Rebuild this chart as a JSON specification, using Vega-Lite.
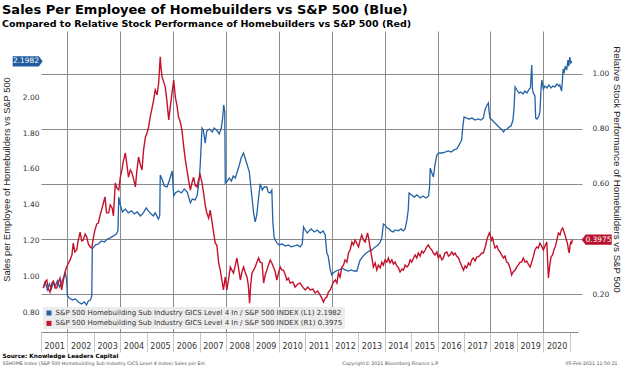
{
  "$schema": "https://vega.github.io/schema/vega-lite/v6.json",
  "width": 537,
  "height": 301,
  "autosize": {"type": "none"},
  "padding": {"left": 41, "top": 31, "right": 46, "bottom": 35},
  "background": "white",
  "config": {"view": {"stroke": null}, "font": "DejaVu Sans", "axis": {"labelOverlap": false}},
  "title": {
    "text": "Sales Per Employee of Homebuilders vs S&P 500 (Blue)",
    "subtitle": "Compared to Relative Stock Performance of Homebuilders vs S&P 500 (Red)",
    "anchor": "start",
    "frame": "group",
    "dx": -39,
    "offset": 3,
    "font": "DejaVu Sans",
    "fontSize": 13,
    "fontWeight": "bold",
    "color": "#000000",
    "subtitleFont": "DejaVu Sans",
    "subtitleFontSize": 9.5,
    "subtitleFontWeight": "bold",
    "subtitleColor": "#000000",
    "subtitlePadding": 2
  },
  "datasets": {
    "blue": [
      {"t":2001.08,"v":0.939},{"t":2001.17,"v":0.967},{"t":2001.24,"v":0.928},{"t":2001.32,"v":0.961},{"t":2001.39,"v":0.933},{"t":2001.47,"v":0.972},{"t":2001.54,"v":0.95},{"t":2001.62,"v":0.978},{"t":2001.70,"v":0.944},{"t":2001.77,"v":0.967},{"t":2001.86,"v":1.0},{"t":2001.92,"v":1.025},{"t":2001.97,"v":0.983},{"t":2002.00,"v":0.894},{"t":2002.07,"v":0.883},{"t":2002.19,"v":0.872},{"t":2002.30,"v":0.878},{"t":2002.41,"v":0.861},{"t":2002.53,"v":0.85},{"t":2002.64,"v":0.861},{"t":2002.72,"v":0.844},{"t":2002.79,"v":0.867},{"t":2002.87,"v":0.872},{"t":2002.92,"v":0.894},{"t":2002.94,"v":1.156},{"t":2003.06,"v":1.178},{"t":2003.17,"v":1.183},{"t":2003.28,"v":1.20},{"t":2003.40,"v":1.194},{"t":2003.51,"v":1.211},{"t":2003.62,"v":1.217},{"t":2003.74,"v":1.228},{"t":2003.85,"v":1.239},{"t":2003.91,"v":1.256},{"t":2003.94,"v":1.444},{"t":2004.00,"v":1.40},{"t":2004.08,"v":1.361},{"t":2004.19,"v":1.378},{"t":2004.30,"v":1.356},{"t":2004.42,"v":1.367},{"t":2004.53,"v":1.35},{"t":2004.64,"v":1.361},{"t":2004.76,"v":1.339},{"t":2004.87,"v":1.356},{"t":2004.98,"v":1.383},{"t":2005.06,"v":1.367},{"t":2005.17,"v":1.35},{"t":2005.25,"v":1.339},{"t":2005.32,"v":1.356},{"t":2005.44,"v":1.322},{"t":2005.49,"v":1.339},{"t":2005.51,"v":1.567},{"t":2005.59,"v":1.539},{"t":2005.66,"v":1.506},{"t":2005.77,"v":1.50},{"t":2005.86,"v":1.539},{"t":2005.96,"v":1.589},{"t":2006.02,"v":1.45},{"t":2006.08,"v":1.467},{"t":2006.20,"v":1.478},{"t":2006.31,"v":1.467},{"t":2006.42,"v":1.489},{"t":2006.53,"v":1.472},{"t":2006.65,"v":1.411},{"t":2006.72,"v":1.433},{"t":2006.83,"v":1.428},{"t":2006.91,"v":1.456},{"t":2006.98,"v":1.539},{"t":2007.02,"v":1.617},{"t":2007.09,"v":1.828},{"t":2007.14,"v":1.817},{"t":2007.21,"v":1.744},{"t":2007.27,"v":1.811},{"t":2007.36,"v":1.822},{"t":2007.48,"v":1.806},{"t":2007.55,"v":1.828},{"t":2007.67,"v":1.811},{"t":2007.74,"v":1.794},{"t":2007.82,"v":1.828},{"t":2007.87,"v":1.883},{"t":2007.91,"v":1.956},{"t":2007.95,"v":1.917},{"t":2007.97,"v":1.522},{"t":2008.05,"v":1.533},{"t":2008.12,"v":1.55},{"t":2008.20,"v":1.533},{"t":2008.27,"v":1.561},{"t":2008.35,"v":1.55},{"t":2008.42,"v":1.583},{"t":2008.50,"v":1.622},{"t":2008.57,"v":1.661},{"t":2008.66,"v":1.689},{"t":2008.72,"v":1.661},{"t":2008.80,"v":1.622},{"t":2008.88,"v":1.583},{"t":2008.95,"v":1.483},{"t":2009.01,"v":1.40},{"t":2009.04,"v":1.356},{"t":2009.10,"v":1.306},{"t":2009.16,"v":1.344},{"t":2009.22,"v":1.428},{"t":2009.29,"v":1.517},{"t":2009.37,"v":1.483},{"t":2009.44,"v":1.50},{"t":2009.54,"v":1.50},{"t":2009.59,"v":1.472},{"t":2009.67,"v":1.467},{"t":2009.73,"v":1.483},{"t":2009.77,"v":1.30},{"t":2009.82,"v":1.217},{"t":2009.92,"v":1.189},{"t":2010.01,"v":1.178},{"t":2010.12,"v":1.183},{"t":2010.24,"v":1.172},{"t":2010.35,"v":1.178},{"t":2010.46,"v":1.167},{"t":2010.58,"v":1.172},{"t":2010.69,"v":1.178},{"t":2010.80,"v":1.167},{"t":2010.88,"v":1.183},{"t":2010.93,"v":1.278},{"t":2010.99,"v":1.261},{"t":2011.07,"v":1.244},{"t":2011.14,"v":1.256},{"t":2011.22,"v":1.267},{"t":2011.33,"v":1.25},{"t":2011.45,"v":1.261},{"t":2011.56,"v":1.244},{"t":2011.67,"v":1.256},{"t":2011.75,"v":1.233},{"t":2011.81,"v":1.133},{"t":2011.86,"v":1.117},{"t":2011.94,"v":1.039},{"t":2012.00,"v":1.011},{"t":2012.05,"v":1.022},{"t":2012.16,"v":1.033},{"t":2012.28,"v":1.039},{"t":2012.39,"v":1.05},{"t":2012.50,"v":1.039},{"t":2012.62,"v":1.033},{"t":2012.73,"v":1.039},{"t":2012.84,"v":1.033},{"t":2012.95,"v":1.033},{"t":2013.00,"v":1.061},{"t":2013.07,"v":1.094},{"t":2013.19,"v":1.117},{"t":2013.30,"v":1.133},{"t":2013.41,"v":1.144},{"t":2013.52,"v":1.15},{"t":2013.64,"v":1.167},{"t":2013.75,"v":1.178},{"t":2013.83,"v":1.194},{"t":2013.89,"v":1.217},{"t":2013.95,"v":1.294},{"t":2014.01,"v":1.289},{"t":2014.09,"v":1.272},{"t":2014.17,"v":1.267},{"t":2014.24,"v":1.256},{"t":2014.32,"v":1.25},{"t":2014.39,"v":1.261},{"t":2014.51,"v":1.256},{"t":2014.62,"v":1.267},{"t":2014.70,"v":1.256},{"t":2014.77,"v":1.267},{"t":2014.84,"v":1.317},{"t":2014.89,"v":1.372},{"t":2014.92,"v":1.467},{"t":2015.02,"v":1.456},{"t":2015.11,"v":1.444},{"t":2015.22,"v":1.456},{"t":2015.34,"v":1.439},{"t":2015.45,"v":1.45},{"t":2015.56,"v":1.439},{"t":2015.66,"v":1.45},{"t":2015.70,"v":1.511},{"t":2015.72,"v":1.606},{"t":2015.77,"v":1.583},{"t":2015.84,"v":1.556},{"t":2015.90,"v":1.622},{"t":2015.97,"v":1.678},{"t":2016.05,"v":1.689},{"t":2016.17,"v":1.689},{"t":2016.28,"v":1.694},{"t":2016.40,"v":1.70},{"t":2016.51,"v":1.694},{"t":2016.62,"v":1.706},{"t":2016.72,"v":1.711},{"t":2016.81,"v":1.733},{"t":2016.91,"v":1.761},{"t":2016.96,"v":1.844},{"t":2017.00,"v":1.889},{"t":2017.10,"v":1.883},{"t":2017.19,"v":1.878},{"t":2017.30,"v":1.883},{"t":2017.42,"v":1.872},{"t":2017.53,"v":1.878},{"t":2017.64,"v":1.872},{"t":2017.73,"v":1.883},{"t":2017.79,"v":1.928},{"t":2017.85,"v":1.95},{"t":2017.92,"v":1.967},{"t":2017.94,"v":1.928},{"t":2017.98,"v":1.883},{"t":2018.06,"v":1.872},{"t":2018.13,"v":1.861},{"t":2018.21,"v":1.85},{"t":2018.28,"v":1.839},{"t":2018.36,"v":1.828},{"t":2018.44,"v":1.817},{"t":2018.49,"v":1.806},{"t":2018.55,"v":1.817},{"t":2018.63,"v":1.822},{"t":2018.70,"v":1.833},{"t":2018.78,"v":1.839},{"t":2018.85,"v":1.872},{"t":2018.89,"v":1.939},{"t":2018.93,"v":2.056},{"t":2019.00,"v":2.039},{"t":2019.08,"v":2.022},{"t":2019.15,"v":2.028},{"t":2019.23,"v":2.017},{"t":2019.30,"v":2.033},{"t":2019.38,"v":2.022},{"t":2019.46,"v":2.044},{"t":2019.51,"v":2.05},{"t":2019.56,"v":2.178},{"t":2019.59,"v":2.039},{"t":2019.62,"v":2.022},{"t":2019.68,"v":2.006},{"t":2019.71,"v":1.883},{"t":2019.76,"v":1.878},{"t":2019.83,"v":1.894},{"t":2019.87,"v":1.917},{"t":2019.91,"v":2.039},{"t":2019.94,"v":2.094},{"t":2020.00,"v":2.044},{"t":2020.06,"v":2.061},{"t":2020.14,"v":2.05},{"t":2020.21,"v":2.067},{"t":2020.29,"v":2.05},{"t":2020.36,"v":2.061},{"t":2020.44,"v":2.056},{"t":2020.51,"v":2.072},{"t":2020.59,"v":2.061},{"t":2020.62,"v":2.067},{"t":2020.69,"v":2.033},{"t":2020.75,"v":2.156},{"t":2020.79,"v":2.139},{"t":2020.83,"v":2.172},{"t":2020.88,"v":2.15},{"t":2020.93,"v":2.206},{"t":2020.96,"v":2.172},{"t":2021.00,"v":2.222},{"t":2021.04,"v":2.189},{"t":2021.08,"v":2.198}
    ],
    "red": [
      {"t":2001.09,"v":0.222},{"t":2001.15,"v":0.244},{"t":2001.22,"v":0.251},{"t":2001.28,"v":0.218},{"t":2001.34,"v":0.207},{"t":2001.41,"v":0.24},{"t":2001.47,"v":0.247},{"t":2001.53,"v":0.222},{"t":2001.59,"v":0.222},{"t":2001.66,"v":0.244},{"t":2001.72,"v":0.258},{"t":2001.78,"v":0.215},{"t":2001.85,"v":0.251},{"t":2001.91,"v":0.28},{"t":2001.97,"v":0.298},{"t":2002.04,"v":0.313},{"t":2002.10,"v":0.324},{"t":2002.17,"v":0.342},{"t":2002.22,"v":0.385},{"t":2002.28,"v":0.353},{"t":2002.35,"v":0.36},{"t":2002.41,"v":0.396},{"t":2002.48,"v":0.425},{"t":2002.54,"v":0.393},{"t":2002.60,"v":0.396},{"t":2002.67,"v":0.418},{"t":2002.73,"v":0.407},{"t":2002.79,"v":0.382},{"t":2002.86,"v":0.371},{"t":2002.92,"v":0.367},{"t":2002.98,"v":0.404},{"t":2003.04,"v":0.433},{"t":2003.11,"v":0.455},{"t":2003.17,"v":0.458},{"t":2003.23,"v":0.484},{"t":2003.29,"v":0.505},{"t":2003.36,"v":0.531},{"t":2003.42,"v":0.553},{"t":2003.48,"v":0.495},{"t":2003.56,"v":0.495},{"t":2003.62,"v":0.524},{"t":2003.69,"v":0.513},{"t":2003.74,"v":0.484},{"t":2003.81,"v":0.604},{"t":2003.87,"v":0.585},{"t":2003.94,"v":0.578},{"t":2004.00,"v":0.625},{"t":2004.06,"v":0.651},{"t":2004.11,"v":0.68},{"t":2004.19,"v":0.713},{"t":2004.25,"v":0.669},{"t":2004.31,"v":0.625},{"t":2004.38,"v":0.651},{"t":2004.44,"v":0.64},{"t":2004.51,"v":0.615},{"t":2004.57,"v":0.589},{"t":2004.63,"v":0.651},{"t":2004.69,"v":0.698},{"t":2004.76,"v":0.669},{"t":2004.82,"v":0.651},{"t":2004.88,"v":0.724},{"t":2004.95,"v":0.771},{"t":2005.01,"v":0.785},{"t":2005.07,"v":0.807},{"t":2005.13,"v":0.844},{"t":2005.20,"v":0.876},{"t":2005.26,"v":0.905},{"t":2005.32,"v":0.942},{"t":2005.39,"v":0.924},{"t":2005.45,"v":0.967},{"t":2005.48,"v":1.015},{"t":2005.51,"v":1.062},{"t":2005.54,"v":1.022},{"t":2005.58,"v":0.989},{"t":2005.64,"v":0.971},{"t":2005.70,"v":0.953},{"t":2005.77,"v":0.895},{"t":2005.83,"v":0.833},{"t":2005.89,"v":0.88},{"t":2005.96,"v":0.935},{"t":2006.02,"v":0.978},{"t":2006.08,"v":0.916},{"t":2006.14,"v":0.887},{"t":2006.20,"v":0.844},{"t":2006.27,"v":0.825},{"t":2006.33,"v":0.796},{"t":2006.39,"v":0.742},{"t":2006.46,"v":0.687},{"t":2006.52,"v":0.651},{"t":2006.58,"v":0.615},{"t":2006.65,"v":0.578},{"t":2006.71,"v":0.604},{"t":2006.77,"v":0.625},{"t":2006.83,"v":0.596},{"t":2006.90,"v":0.589},{"t":2006.96,"v":0.615},{"t":2007.02,"v":0.633},{"t":2007.09,"v":0.604},{"t":2007.15,"v":0.567},{"t":2007.21,"v":0.524},{"t":2007.27,"v":0.495},{"t":2007.34,"v":0.476},{"t":2007.40,"v":0.505},{"t":2007.47,"v":0.462},{"t":2007.53,"v":0.422},{"t":2007.59,"v":0.385},{"t":2007.65,"v":0.378},{"t":2007.72,"v":0.313},{"t":2007.78,"v":0.287},{"t":2007.84,"v":0.251},{"t":2007.90,"v":0.215},{"t":2007.97,"v":0.262},{"t":2008.03,"v":0.215},{"t":2008.09,"v":0.251},{"t":2008.16,"v":0.298},{"t":2008.22,"v":0.287},{"t":2008.28,"v":0.276},{"t":2008.35,"v":0.305},{"t":2008.41,"v":0.331},{"t":2008.47,"v":0.295},{"t":2008.54,"v":0.251},{"t":2008.60,"v":0.28},{"t":2008.66,"v":0.298},{"t":2008.72,"v":0.28},{"t":2008.79,"v":0.262},{"t":2008.84,"v":0.233},{"t":2008.89,"v":0.167},{"t":2008.93,"v":0.233},{"t":2008.98,"v":0.276},{"t":2009.04,"v":0.287},{"t":2009.10,"v":0.298},{"t":2009.17,"v":0.316},{"t":2009.23,"v":0.331},{"t":2009.29,"v":0.316},{"t":2009.36,"v":0.313},{"t":2009.42,"v":0.24},{"t":2009.48,"v":0.269},{"t":2009.54,"v":0.287},{"t":2009.60,"v":0.305},{"t":2009.67,"v":0.324},{"t":2009.73,"v":0.313},{"t":2009.79,"v":0.298},{"t":2009.86,"v":0.28},{"t":2009.92,"v":0.251},{"t":2009.98,"v":0.276},{"t":2010.05,"v":0.298},{"t":2010.11,"v":0.287},{"t":2010.17,"v":0.287},{"t":2010.24,"v":0.269},{"t":2010.30,"v":0.251},{"t":2010.36,"v":0.258},{"t":2010.42,"v":0.24},{"t":2010.52,"v":0.244},{"t":2010.61,"v":0.225},{"t":2010.71,"v":0.236},{"t":2010.80,"v":0.24},{"t":2010.90,"v":0.225},{"t":2010.99,"v":0.215},{"t":2011.09,"v":0.225},{"t":2011.18,"v":0.215},{"t":2011.28,"v":0.218},{"t":2011.37,"v":0.204},{"t":2011.46,"v":0.211},{"t":2011.56,"v":0.196},{"t":2011.62,"v":0.185},{"t":2011.68,"v":0.171},{"t":2011.75,"v":0.185},{"t":2011.81,"v":0.189},{"t":2011.87,"v":0.207},{"t":2011.94,"v":0.215},{"t":2012.00,"v":0.229},{"t":2012.06,"v":0.244},{"t":2012.13,"v":0.251},{"t":2012.19,"v":0.24},{"t":2012.25,"v":0.276},{"t":2012.31,"v":0.262},{"t":2012.38,"v":0.298},{"t":2012.44,"v":0.305},{"t":2012.50,"v":0.324},{"t":2012.57,"v":0.316},{"t":2012.63,"v":0.349},{"t":2012.69,"v":0.36},{"t":2012.76,"v":0.389},{"t":2012.82,"v":0.378},{"t":2012.88,"v":0.396},{"t":2012.94,"v":0.385},{"t":2013.01,"v":0.371},{"t":2013.07,"v":0.396},{"t":2013.13,"v":0.415},{"t":2013.20,"v":0.396},{"t":2013.26,"v":0.389},{"t":2013.35,"v":0.422},{"t":2013.39,"v":0.404},{"t":2013.45,"v":0.367},{"t":2013.51,"v":0.335},{"t":2013.57,"v":0.298},{"t":2013.64,"v":0.313},{"t":2013.70,"v":0.287},{"t":2013.76,"v":0.305},{"t":2013.83,"v":0.295},{"t":2013.89,"v":0.316},{"t":2013.95,"v":0.305},{"t":2014.01,"v":0.324},{"t":2014.08,"v":0.316},{"t":2014.14,"v":0.331},{"t":2014.20,"v":0.313},{"t":2014.27,"v":0.324},{"t":2014.33,"v":0.309},{"t":2014.39,"v":0.316},{"t":2014.46,"v":0.302},{"t":2014.52,"v":0.295},{"t":2014.58,"v":0.28},{"t":2014.65,"v":0.291},{"t":2014.71,"v":0.287},{"t":2014.77,"v":0.305},{"t":2014.84,"v":0.298},{"t":2014.90,"v":0.305},{"t":2014.96,"v":0.324},{"t":2015.02,"v":0.316},{"t":2015.09,"v":0.331},{"t":2015.15,"v":0.342},{"t":2015.21,"v":0.331},{"t":2015.27,"v":0.349},{"t":2015.34,"v":0.338},{"t":2015.40,"v":0.356},{"t":2015.46,"v":0.349},{"t":2015.53,"v":0.36},{"t":2015.59,"v":0.371},{"t":2015.65,"v":0.378},{"t":2015.72,"v":0.367},{"t":2015.78,"v":0.36},{"t":2015.84,"v":0.349},{"t":2015.90,"v":0.342},{"t":2015.97,"v":0.353},{"t":2016.03,"v":0.331},{"t":2016.09,"v":0.342},{"t":2016.16,"v":0.324},{"t":2016.22,"v":0.331},{"t":2016.28,"v":0.349},{"t":2016.35,"v":0.353},{"t":2016.41,"v":0.338},{"t":2016.47,"v":0.342},{"t":2016.54,"v":0.353},{"t":2016.60,"v":0.342},{"t":2016.66,"v":0.349},{"t":2016.72,"v":0.338},{"t":2016.79,"v":0.331},{"t":2016.85,"v":0.316},{"t":2016.91,"v":0.302},{"t":2016.98,"v":0.287},{"t":2017.04,"v":0.302},{"t":2017.10,"v":0.295},{"t":2017.17,"v":0.313},{"t":2017.23,"v":0.305},{"t":2017.29,"v":0.324},{"t":2017.35,"v":0.331},{"t":2017.42,"v":0.32},{"t":2017.48,"v":0.335},{"t":2017.54,"v":0.335},{"t":2017.61,"v":0.342},{"t":2017.67,"v":0.349},{"t":2017.73,"v":0.349},{"t":2017.80,"v":0.371},{"t":2017.86,"v":0.396},{"t":2017.91,"v":0.411},{"t":2017.96,"v":0.422},{"t":2018.00,"v":0.411},{"t":2018.04,"v":0.396},{"t":2018.08,"v":0.404},{"t":2018.13,"v":0.382},{"t":2018.17,"v":0.367},{"t":2018.24,"v":0.375},{"t":2018.30,"v":0.36},{"t":2018.36,"v":0.353},{"t":2018.42,"v":0.342},{"t":2018.49,"v":0.331},{"t":2018.55,"v":0.338},{"t":2018.61,"v":0.316},{"t":2018.67,"v":0.313},{"t":2018.74,"v":0.295},{"t":2018.80,"v":0.269},{"t":2018.86,"v":0.28},{"t":2018.93,"v":0.287},{"t":2018.99,"v":0.298},{"t":2019.05,"v":0.305},{"t":2019.12,"v":0.316},{"t":2019.18,"v":0.316},{"t":2019.24,"v":0.331},{"t":2019.31,"v":0.316},{"t":2019.37,"v":0.32},{"t":2019.43,"v":0.309},{"t":2019.50,"v":0.298},{"t":2019.56,"v":0.316},{"t":2019.62,"v":0.335},{"t":2019.68,"v":0.36},{"t":2019.75,"v":0.371},{"t":2019.81,"v":0.367},{"t":2019.87,"v":0.385},{"t":2019.93,"v":0.375},{"t":2020.00,"v":0.36},{"t":2020.06,"v":0.375},{"t":2020.13,"v":0.389},{"t":2020.16,"v":0.324},{"t":2020.19,"v":0.258},{"t":2020.23,"v":0.295},{"t":2020.29,"v":0.335},{"t":2020.35,"v":0.342},{"t":2020.40,"v":0.36},{"t":2020.46,"v":0.375},{"t":2020.51,"v":0.396},{"t":2020.57,"v":0.422},{"t":2020.63,"v":0.415},{"t":2020.68,"v":0.433},{"t":2020.73,"v":0.44},{"t":2020.78,"v":0.426},{"t":2020.82,"v":0.415},{"t":2020.87,"v":0.396},{"t":2020.91,"v":0.385},{"t":2020.95,"v":0.36},{"t":2020.98,"v":0.349},{"t":2021.01,"v":0.378},{"t":2021.04,"v":0.389},{"t":2021.07,"v":0.385},{"t":2021.10,"v":0.3975}
    ]
  },
  "layer": [
    {
      "layer": [
        {
          "data": {"name": "blue"},
          "mark": {"type": "line", "strokeWidth": 1.3},
          "encoding": {
            "x": {
              "field": "t", "type": "quantitative",
              "scale": {"domain": [2001, 2021.31], "nice": false, "zero": false},
              "axis": {
                "orient": "bottom",
                "values": [2001,2002,2003,2004,2005,2006,2007,2008,2009,2010,2011,2012,2013,2014,2015,2016,2017,2018,2019,2020,2021],
                "tickCount": 40,
                "format": "d",
                "labelExpr": "datum.value >= 2021 ? '' : datum.label",
                "labelOffset": 13.2,
                "labelFlush": false,
                "labelOverlap": false,
                "labelPadding": -10,
                "labelFont": "DejaVu Sans",
                "labelFontSize": 8,
                "labelColor": "#333333",
                "ticks": true,
                "tickSize": 20,
                "tickColor": "#c8c8c8",
                "domain": true,
                "domainColor": "#888888",
                "grid": false,
                "title": "Source: Knowledge Leaders Capital",
                "titleX": -39,
                "titleY": 23,
                "titleAlign": "left",
                "titleBaseline": "middle",
                "titleFont": "DejaVu Sans",
                "titleFontSize": 5.8,
                "titleFontWeight": "bold",
                "titleColor": "#000000"
              }
            },
            "y": {
              "field": "v", "type": "quantitative",
              "scale": {"domain": [0.694, 2.367], "nice": false, "zero": false},
              "axis": {
                "orient": "left",
                "values": [0.8, 1.0, 1.2, 1.4, 1.6, 1.8, 2.0],
                "tickCount": 20,
                "format": ".2f",
                "grid": false,
                "ticks": false,
                "domain": false,
                "labelPadding": 2,
                "labelFont": "DejaVu Sans",
                "labelFontSize": 7.5,
                "labelColor": "#333333",
                "title": "Sales per Employee of Homebuilders vs S&P 500",
                "titleFont": "Liberation Sans",
                "titleFontSize": 9.3,
                "titleFontWeight": "normal",
                "titleColor": "#222222",
                "titleAngle": -90,
                "titleX": -35,
                "titleY": 148,
                "titleAlign": "center",
                "titleBaseline": "middle"
              }
            },
            "color": {
              "datum": "S&P 500 Homebuilding Sub Industry GICS Level 4 In / S&P 500 INDEX (L1) 2.1982",
              "type": "nominal",
              "scale": {
                "domain": ["S&P 500 Homebuilding Sub Industry GICS Level 4 In / S&P 500 INDEX (L1) 2.1982", "S&P 500 Homebuilding Sub Industry GICS Level 4 In / S&P 500 INDEX (R1) 0.3975"],
                "range": ["#2462a6", "#c4122c"]
              },
              "legend": {
                "orient": "none",
                "legendX": 2,
                "legendY": 276,
                "title": null,
                "direction": "vertical",
                "fillColor": "#ececec",
                "padding": 2.5,
                "symbolType": "square",
                "symbolSize": 25,
                "labelFont": "DejaVu Sans",
                "labelFontSize": 7,
                "labelColor": "#333333",
                "labelLimit": 400,
                "labelOffset": 3,
                "rowPadding": 2.4,
                "encode": {"symbols": {"update": {"fill": {"scale": "color", "field": "value"}, "strokeWidth": {"value": 0}}}}
              }
            }
          }
        },
        {
          "data": {"values": [{"v": 2.1982, "label": "2.1982"}]},
          "mark": {"type": "point", "shape": "M-1,-0.34L0.74,-0.34L1,0L0.74,0.34L-1,0.34Z", "size": 900, "filled": true, "opacity": 1, "color": "#1e5b9f", "strokeWidth": 0, "xOffset": -13.3},
          "encoding": {
            "x": {"datum": 2001, "type": "quantitative"},
            "y": {"field": "v", "type": "quantitative"}
          }
        },
        {
          "data": {"values": [{"v": 2.1982, "label": "2.1982"}]},
          "mark": {"type": "text", "font": "DejaVu Sans", "fontSize": 7.5, "color": "#ffffff", "xOffset": -15, "align": "center", "baseline": "middle"},
          "encoding": {
            "x": {"datum": 2001, "type": "quantitative"},
            "y": {"field": "v", "type": "quantitative"},
            "text": {"field": "label"}
          }
        }
      ]
    },
    {
      "layer": [
        {
          "data": {"name": "red"},
          "mark": {"type": "line", "strokeWidth": 1.4},
          "encoding": {
            "x": {
              "field": "t", "type": "quantitative",
              "scale": {"domain": [2001, 2021.31], "nice": false, "zero": false},
              "axis": {
                "orient": "top",
                "values": [2002,2004,2006,2008,2010,2012,2014,2016,2018,2020],
                "tickCount": 40,
                "labels": false,
                "ticks": false,
                "domain": false,
                "grid": true,
                "gridColor": "#8a8a8a",
                "title": "SSHOME Index (S&P 500 Homebuilding Sub Industry GICS Level 4 Index) Sales per Em\u00a0\u00a0\u00a0\u00a0\u00a0\u00a0\u00a0\u00a0\u00a0\u00a0\u00a0\u00a0\u00a0\u00a0\u00a0\u00a0\u00a0\u00a0\u00a0\u00a0\u00a0\u00a0\u00a0\u00a0\u00a0\u00a0\u00a0\u00a0\u00a0\u00a0\u00a0\u00a0\u00a0\u00a0\u00a0\u00a0\u00a0\u00a0\u00a0\u00a0\u00a0\u00a0\u00a0\u00a0\u00a0\u00a0\u00a0\u00a0\u00a0\u00a0\u00a0\u00a0\u00a0\u00a0\u00a0\u00a0\u00a0\u00a0\u00a0\u00a0\u00a0\u00a0\u00a0\u00a0\u00a0\u00a0\u00a0\u00a0\u00a0\u00a0\u00a0\u00a0\u00a0\u00a0\u00a0\u00a0\u00a0\u00a0\u00a0\u00a0\u00a0\u00a0\u00a0\u00a0\u00a0\u00a0\u00a0\u00a0\u00a0\u00a0\u00a0\u00a0Copyright\u00a9 2021 Bloomberg Finance L.P.\u00a0\u00a0\u00a0\u00a0\u00a0\u00a0\u00a0\u00a0\u00a0\u00a0\u00a0\u00a0\u00a0\u00a0\u00a0\u00a0\u00a0\u00a0\u00a0\u00a0\u00a0\u00a0\u00a0\u00a0\u00a0\u00a0\u00a0\u00a0\u00a0\u00a0\u00a0\u00a0\u00a0\u00a0\u00a0\u00a0\u00a0\u00a0\u00a0\u00a0\u00a0\u00a0\u00a0\u00a0\u00a0\u00a0\u00a0\u00a0\u00a0\u00a0\u00a0\u00a0\u00a0\u00a0\u00a0\u00a0\u00a0\u00a0\u00a0\u00a0\u00a0\u00a0\u00a0\u00a0\u00a0\u00a0\u00a0\u00a0\u00a0\u00a0\u00a0\u00a0\u00a0\u00a0\u00a0\u00a0\u00a0\u00a0\u00a0\u00a0\u00a0\u00a0\u00a0\u00a0\u00a005-Feb-2021 11:50:21",
                "titleX": -39,
                "titleY": 332,
                "titleAlign": "left",
                "titleBaseline": "middle",
                "titleFont": "DejaVu Sans",
                "titleFontSize": 4.7,
                "titleFontWeight": "normal",
                "titleColor": "#555555"
              }
            },
            "y": {
              "field": "v", "type": "quantitative",
              "scale": {"domain": [0.062, 1.156], "nice": false, "zero": false},
              "axis": {
                "orient": "right",
                "values": [0.2, 0.4, 0.6, 0.8, 1.0],
                "tickCount": 20,
                "format": ".2f",
                "labelExpr": "datum.value == 0.4 ? '' : datum.label",
                "grid": true,
                "gridColor": "#8a8a8a",
                "ticks": true,
                "tickSize": 4,
                "tickColor": "#8a8a8a",
                "domain": false,
                "labelPadding": 10,
                "labelFont": "DejaVu Sans",
                "labelFontSize": 7.5,
                "labelColor": "#333333",
                "title": "Relative Stock Performance of Homebuilders vs S&P 500",
                "titleFont": "Liberation Sans",
                "titleFontSize": 9.7,
                "titleFontWeight": "normal",
                "titleColor": "#222222",
                "titleAngle": 90,
                "titleX": 38.5,
                "titleY": 138,
                "titleAlign": "center",
                "titleBaseline": "middle"
              }
            },
            "color": {
              "datum": "S&P 500 Homebuilding Sub Industry GICS Level 4 In / S&P 500 INDEX (R1) 0.3975",
              "type": "nominal",
              "legend": null
            }
          }
        },
        {
          "data": {"values": [{"v": 0.3975, "label": "0.3975"}]},
          "mark": {"type": "point", "shape": "M-1,0L-0.74,-0.34L1,-0.34L1,0.34L-0.74,0.34Z", "size": 900, "filled": true, "opacity": 1, "color": "#b8102a", "strokeWidth": 0, "xOffset": 18.7},
          "encoding": {
            "x": {"datum": 2021.31, "type": "quantitative"},
            "y": {"field": "v", "type": "quantitative"}
          }
        },
        {
          "data": {"values": [{"v": 0.3975, "label": "0.3975"}]},
          "mark": {"type": "text", "font": "DejaVu Sans", "fontSize": 7.5, "color": "#ffffff", "xOffset": 20.5, "align": "center", "baseline": "middle"},
          "encoding": {
            "x": {"datum": 2021.31, "type": "quantitative"},
            "y": {"field": "v", "type": "quantitative"},
            "text": {"field": "label"}
          }
        }
      ]
    }
  ],
  "resolve": {"scale": {"y": "independent"}, "axis": {"x": "independent"}}
}
